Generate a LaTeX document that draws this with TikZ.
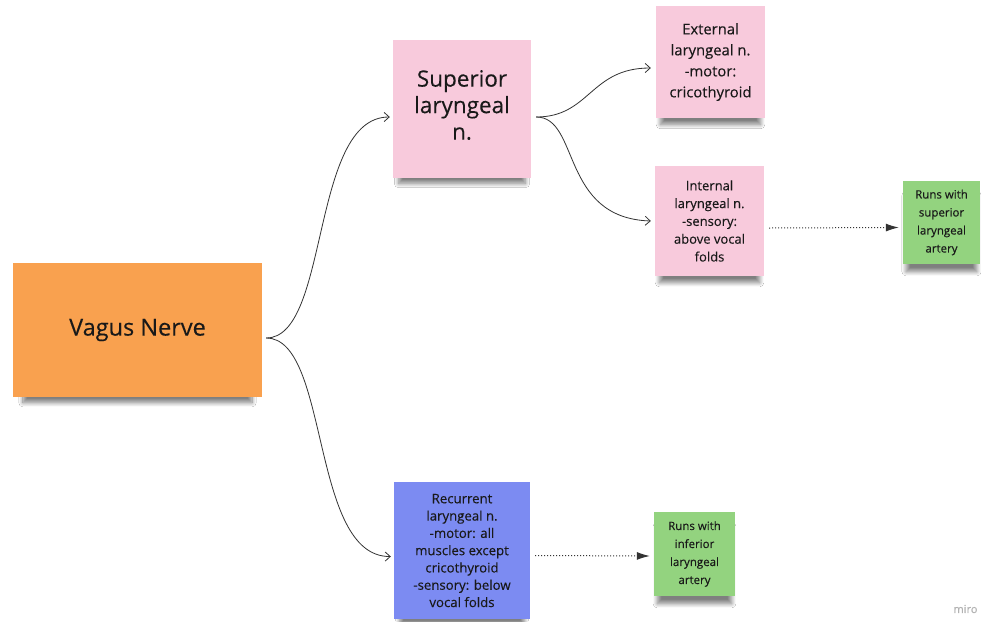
\documentclass[tikz,border=0pt]{standalone}
\usepackage{fontspec}
\setmainfont{Open Sans}[FakeBold=0.25]
\usetikzlibrary{shadows.blur,arrows.meta}
\definecolor{orng}{HTML}{F9A14F}
\definecolor{pnk}{HTML}{F8CADC}
\definecolor{blu}{HTML}{7C8BF2}
\definecolor{grn}{HTML}{93D37F}
\tikzset{
  sticky/.style={inner sep=0pt, align=center, text=black!90,
    blur shadow={shadow xshift=0pt, shadow yshift=-12pt, shadow scale=0.92,
      shadow blur radius=4.5pt, shadow opacity=50, shadow blur steps=12}},
  curvy/.style={draw=black!80, line width=0.8pt, -{Straight Barb[length=5pt,width=9pt]}},
  dotty/.style={draw=black!80, line width=1pt, dotted, -{Latex[length=13pt,width=8pt]}},
}
\begin{document}
\begin{tikzpicture}[x=1pt,y=-1pt]
\useasboundingbox (0,0) rectangle (981,621);
\fill[white] (0,0) rectangle (981,621);
\node[sticky, fill=orng, minimum width=249pt, minimum height=134pt, font=\fontsize{23.5}{28}\selectfont] (vagus) at (137.5,330) {Vagus Nerve};
\node[sticky, fill=pnk, minimum width=138pt, minimum height=138pt,
  label={[align=center, text=black!90, yshift=4pt, font=\fontsize{22.5}{26.5}\selectfont]center:Superior\\laryngeal\\n.}] (sup) at (462,109) {};
\node[sticky, fill=pnk, minimum width=109pt, minimum height=112pt, font=\fontsize{14.8}{21}\selectfont] (ext) at (710.5,62) {External\\laryngeal n.\\-motor:\\cricothyroid};
\node[sticky, fill=pnk, minimum width=109pt, minimum height=110pt, font=\fontsize{13}{17.8}\selectfont] (int) at (709.5,221) {Internal\\laryngeal n.\\-sensory:\\above vocal\\folds};
\node[sticky, fill=grn, minimum width=77pt, minimum height=83pt, font=\fontsize{11.5}{18}\selectfont] (g1) at (941.5,222.5) {Runs with\\superior\\laryngeal\\artery};
\node[sticky, fill=blu, minimum width=136pt, minimum height=137pt, font=\fontsize{13.2}{17.3}\selectfont] (rec) at (462,550.5) {Recurrent\\laryngeal n.\\-motor: all\\muscles except\\cricothyroid\\-sensory: below\\vocal folds};
\node[sticky, fill=grn, minimum width=81pt, minimum height=84pt, font=\fontsize{11.5}{18}\selectfont] (g2) at (694.5,554) {Runs with\\inferior\\laryngeal\\artery};
\node[text=black!30, font=\fontsize{11}{13}\selectfont, anchor=east] (miro) at (981,609) {miro};
\coordinate (vo) at ([xshift=4pt,yshift=-8pt]vagus.east);
\coordinate (so) at ([xshift=5pt,yshift=-8pt]sup.east);
\draw[curvy] (vo) .. controls (330,338) and (310,117) .. ([xshift=-3pt,yshift=-8pt]sup.west);
\draw[curvy] (vo) .. controls (330,338) and (310,557) .. ([xshift=-3pt,yshift=-6pt]rec.west);
\draw[curvy] (so) .. controls (590,117) and (590,68) .. ([xshift=-5pt,yshift=-6pt]ext.west);
\draw[curvy] (so) .. controls (580,117) and (560,218) .. ([xshift=-4pt]int.west);
\draw[dotty] ([xshift=5pt,yshift=-7pt]int.east) -- ([xshift=-4pt,yshift=-5pt]g1.west);
\draw[dotty] ([xshift=5pt,yshift=-5pt]rec.east) -- ([xshift=-4pt,yshift=-2pt]g2.west);
\end{tikzpicture}
\end{document}
